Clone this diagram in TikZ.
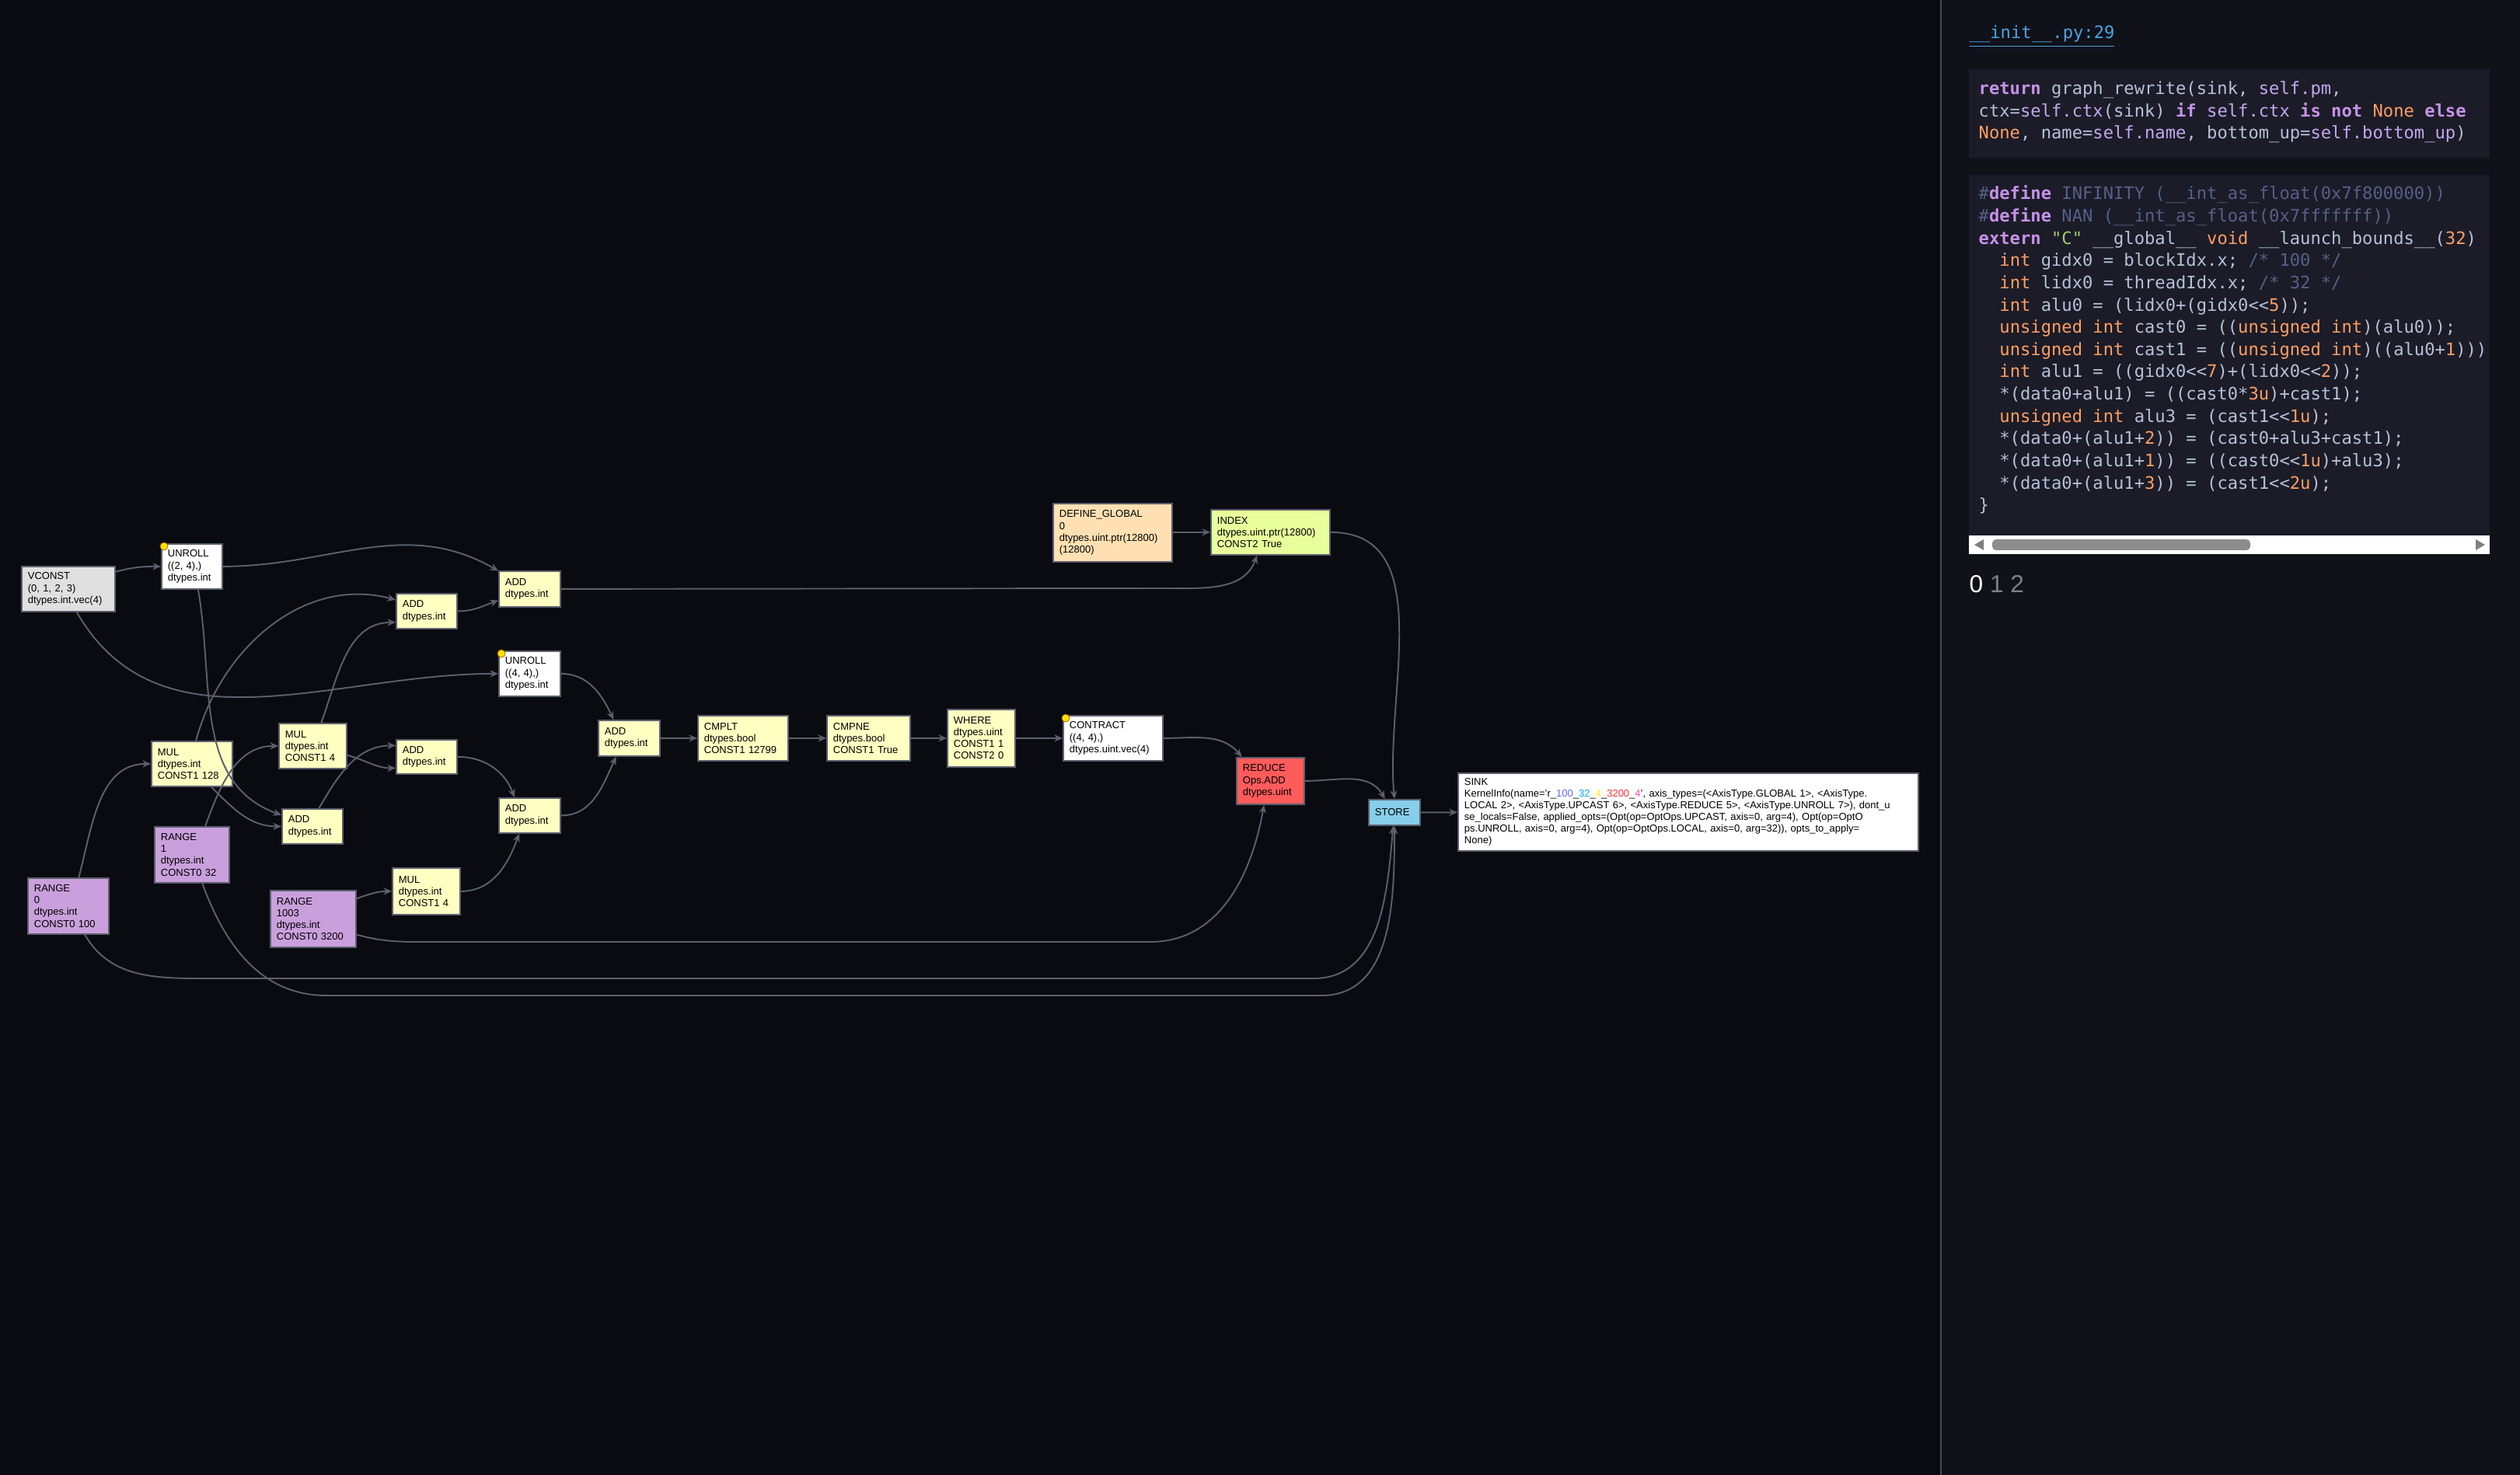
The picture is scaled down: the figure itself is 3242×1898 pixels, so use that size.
\documentclass[tikz,border=0pt]{standalone}
\usepackage{fontspec}
\setmainfont{Liberation Sans}
\setmonofont{DejaVu Sans Mono}
\usetikzlibrary{arrows.meta, positioning}
\definecolor{bgmain}{HTML}{0A0B10}
\definecolor{bgside}{HTML}{101119}
\definecolor{bgcode}{HTML}{1B1C27}
\definecolor{edgegrey}{HTML}{5B5F6E}
\definecolor{opyellow}{HTML}{FFFFC2}
\definecolor{vconstgrey}{HTML}{E0E0E0}
\definecolor{rangepurple}{HTML}{C9A0DC}
\definecolor{globalorange}{HTML}{FFE0B2}
\definecolor{indexgreen}{HTML}{E8FF9C}
\definecolor{reducered}{HTML}{FF5B5B}
\definecolor{storeblue}{HTML}{87CEEB}
\definecolor{kwpurple}{HTML}{C792EA}
\definecolor{selfpurple}{HTML}{C4A7F0}
\definecolor{plaintext}{HTML}{B8BFD9}
\definecolor{numorange}{HTML}{FF9E64}
\definecolor{cmtgrey}{HTML}{565F89}
\definecolor{strgreen}{HTML}{9ECE6A}
\definecolor{linkblue}{HTML}{4AA3DF}
\newcommand\kw[1]{\textcolor{kwpurple}{\bfseries #1}}
\newcommand\sv[1]{\textcolor{selfpurple}{#1}}
\newcommand\nn[1]{\textcolor{numorange}{#1}}
\newcommand\cm[1]{\textcolor{cmtgrey}{#1}}
\newcommand\st[1]{\textcolor{strgreen}{#1}}
\newcommand\ind{\phantom{xx}}

\begin{document}
\begin{tikzpicture}[x=0.01cm, y=0.01cm, >={Stealth[length=3pt,width=2.6pt]}]
    \tikzset{op/.style={draw=edgegrey, line width=0.5pt, anchor=north west, align=left,
                        inner xsep=0.08cm, inner ysep=0pt,
                        font=\fontsize{3.7pt}{4.3pt}\selectfont, text=black},
             wire/.style={draw=edgegrey, line width=0.55pt, ->},
             badge/.style={circle, fill=yellow!85!orange, draw=orange!70!black, line width=0.2pt,
                           inner sep=0pt, minimum size=0.1cm},
             code/.style={anchor=north west, align=left, inner sep=0pt, text=plaintext,
                          font=\fontsize{6.3pt}{8.15pt}\selectfont\ttfamily}}

    % backgrounds
    \fill[bgmain] (0,0) rectangle (3242,-1898);
    \useasboundingbox (0,0) rectangle (3242,-1898);
    \fill[bgside] (2497,0) rectangle (3242,-1898);
    \draw[bgcode!80!white, line width=0.4pt] (2497,0) -- (2497,-1898);

    % graph nodes
    \node[op, fill=vconstgrey, text width=1.04cm, minimum height=0.58cm] (vconst) at (27,-728) {VCONST\\(0, 1, 2, 3)\\dtypes.int.vec(4)};
    \node[op, fill=white, text width=0.62cm, minimum height=0.58cm] (unroll1) at (207,-699) {UNROLL\\((2, 4),)\\dtypes.int};
    \node[op, fill=opyellow, text width=0.63cm, minimum height=0.46cm] (add2) at (641,-734) {ADD\\dtypes.int};
    \node[op, fill=opyellow, text width=0.62cm, minimum height=0.45cm] (add1) at (509,-763) {ADD\\dtypes.int};
    \node[op, fill=white, text width=0.63cm, minimum height=0.58cm] (unroll2) at (641,-837) {UNROLL\\((4, 4),)\\dtypes.int};
    \node[op, fill=opyellow, text width=0.63cm, minimum height=0.46cm] (add5) at (769,-926) {ADD\\dtypes.int};
    \node[op, fill=opyellow, text width=1.00cm, minimum height=0.58cm] (cmplt) at (897,-920) {CMPLT\\dtypes.bool\\CONST1 12799};
    \node[op, fill=opyellow, text width=0.91cm, minimum height=0.58cm] (cmpne) at (1063,-920) {CMPNE\\dtypes.bool\\CONST1 True};
    \node[op, fill=opyellow, text width=0.71cm, minimum height=0.74cm] (where) at (1218,-912) {WHERE\\dtypes.uint\\CONST1 1\\CONST2 0};
    \node[op, fill=white, text width=1.12cm, minimum height=0.58cm] (contract) at (1367,-920) {CONTRACT\\((4, 4),)\\dtypes.uint.vec(4)};
    \node[op, fill=globalorange, text width=1.37cm, minimum height=0.75cm] (defglobal) at (1354,-647) {DEFINE\_GLOBAL\\0\\dtypes.uint.ptr(12800)\\(12800)};
    \node[op, fill=indexgreen, text width=1.37cm, minimum height=0.58cm] (index) at (1557,-655) {INDEX\\dtypes.uint.ptr(12800)\\CONST2 True};
    \node[op, fill=reducered, text width=0.71cm, minimum height=0.60cm] (reduce) at (1590,-974) {REDUCE\\Ops.ADD\\dtypes.uint};
    \node[op, fill=storeblue, text width=0.50cm, minimum height=0.33cm] (store) at (1760,-1028) {STORE};
    \node[op, fill=white, text width=5.76cm, minimum height=1.00cm] (sink) at (1875,-994) {SINK\\KernelInfo(name='r\_\textcolor{blue!60}{100}\_\textcolor{cyan}{32}\_\textcolor{yellow}{4}\_\textcolor{red!80}{3200}\_\textcolor{magenta!70}{4}', axis\_types=(<AxisType.GLOBAL 1>, <AxisType.\\LOCAL 2>, <AxisType.UPCAST 6>, <AxisType.REDUCE 5>, <AxisType.UNROLL 7>), dont\_u\\se\_locals=False, applied\_opts=(Opt(op=OptOps.UPCAST, axis=0, arg=4), Opt(op=OptO\\ps.UNROLL, axis=0, arg=4), Opt(op=OptOps.LOCAL, axis=0, arg=32)), opts\_to\_apply=\\None)};
    \node[op, fill=opyellow, text width=0.88cm, minimum height=0.58cm] (mul128) at (194,-953) {MUL\\dtypes.int\\CONST1 128};
    \node[op, fill=opyellow, text width=0.71cm, minimum height=0.58cm] (mul4a) at (358,-930) {MUL\\dtypes.int\\CONST1 4};
    \node[op, fill=opyellow, text width=0.62cm, minimum height=0.44cm] (add3) at (509,-951) {ADD\\dtypes.int};
    \node[op, fill=opyellow, text width=0.62cm, minimum height=0.45cm] (add4) at (362,-1040) {ADD\\dtypes.int};
    \node[op, fill=opyellow, text width=0.63cm, minimum height=0.45cm] (add6) at (641,-1026) {ADD\\dtypes.int};
    \node[op, fill=rangepurple, text width=0.80cm, minimum height=0.72cm] (range1) at (198,-1063) {RANGE\\1\\dtypes.int\\CONST0 32};
    \node[op, fill=opyellow, text width=0.71cm, minimum height=0.60cm] (mul4b) at (504,-1116) {MUL\\dtypes.int\\CONST1 4};
    \node[op, fill=rangepurple, text width=0.94cm, minimum height=0.73cm] (range1003) at (347,-1145) {RANGE\\1003\\dtypes.int\\CONST0 3200};
    \node[op, fill=rangepurple, text width=0.88cm, minimum height=0.72cm] (range0) at (35,-1129) {RANGE\\0\\dtypes.int\\CONST0 100};

    \foreach \n in {unroll1, unroll2, contract}
        \node[badge] at ([xshift=0.04cm, yshift=-0.04cm]\n.north west) {};

    % bends of the long wires
    \coordinate (bendA) at (1500,-757);
    \coordinate (bendB) at (560,-1212);
    \coordinate (bendC) at (1480,-1212);
    \coordinate (bendD) at (260,-1259);
    \coordinate (bendE) at (1690,-1259);
    \coordinate (bendF) at (420,-1281);
    \coordinate (bendG) at (1700,-1281);

    % wires
    \draw[wire] (vconst.20) to[out=15,in=180] (unroll1.west);
    \draw[wire] (vconst.-70) to[out=-60,in=180] (unroll2.west);
    \draw[wire] (unroll1.east) to[out=0,in=150] (add2.150);
    \draw[wire] (unroll1.-75) to[out=-80,in=160] (add4.160);
    \draw[wire] (add1.east) to[out=0,in=200] (add2.200);
    \draw[wire] (mul128.80) to[out=75,in=165] (add1.160);
    \draw[wire] (mul128.-50) to[out=-45,in=180] (add4.west);
    \draw[wire] (range0.70) to[out=75,in=180] (mul128.west);
    \draw[wire] (range1.65) to[out=70,in=180] (mul4a.west);
    \draw[wire] (mul4a.70) to[out=70,in=180] (add1.200);
    \draw[wire] (mul4a.-15) to[out=-15,in=180] (add3.200);
    \draw[wire] (add4.70) to[out=60,in=180] (add3.160);
    \draw[wire] (add3.east) to[out=0,in=110] (add6.130);
    \draw[wire] (mul4b.east) to[out=0,in=-110] (add6.-120);
    \draw[wire] (range1003.25) to[out=20,in=180] (mul4b.west);
    \draw[wire] (unroll2.east) to[out=0,in=115] (add5.130);
    \draw[wire] (add6.east) to[out=0,in=-115] (add5.-125);
    \draw[wire] (add5) -- (cmplt);
    \draw[wire] (cmplt) -- (cmpne);
    \draw[wire] (cmpne) -- (where);
    \draw[wire] (where) -- (contract);
    \draw[wire] (contract.east) to[out=0,in=130] (reduce.140);
    \draw[wire] (range1003.-20) to[out=-15,in=180] (bendB) -- (bendC) to[out=0,in=-100] (reduce.-105);
    \draw[wire] (add2.east) -- (bendA) to[out=0,in=-110] (index.-120);
    \draw[wire] (defglobal.east |- index.west) -- (index.west);
    \draw[wire] (index.east) to[out=0,in=95] (store.north);
    \draw[wire] (reduce.east) to[out=0,in=120] (store.125);
    \draw[wire] (range0.-60) to[out=-60,in=180] (bendD) -- (bendE) to[out=0,in=-95] (store.-95);
    \draw[wire] (range1.-70) to[out=-70,in=180] (bendF) -- (bendG) to[out=0,in=-90] (store.-90);
    \draw[wire] (store) -- (sink);

    % side panel
    \node[code, text=linkblue] (link) at (2533,-32) {\underline{\_\_init\_\_.py:29}};
    \fill[bgcode] (2533,-89) rectangle (3203,-203);
    \node[code] (pysrc) at (2545,-104) {\kw{return} graph\_rewrite(sink, \sv{self.pm},\\ctx=\sv{self.ctx}(sink) \kw{if} \sv{self.ctx} \kw{is} \kw{not} \nn{None} \kw{else}\\\nn{None}, name=\sv{self.name}, bottom\_up=\sv{self.bottom\_up})};
    \fill[bgcode] (2533,-225) rectangle (3203,-689);
    \begin{scope}
        \clip (2533,-225) rectangle (3203,-689);
        \node[code] (csrc) at (2545,-238) {\cm{\#}\kw{define} \cm{INFINITY (\_\_int\_as\_float(0x7f800000))}\\
\cm{\#}\kw{define} \cm{NAN (\_\_int\_as\_float(0x7fffffff))}\\
\kw{extern} \st{"C"} \_\_global\_\_ \nn{void} \_\_launch\_bounds\_\_(\nn{32})\\
\ind\nn{int} gidx0 = blockIdx.x; \cm{/* 100 */}\\
\ind\nn{int} lidx0 = threadIdx.x; \cm{/* 32 */}\\
\ind\nn{int} alu0 = (lidx0+(gidx0<<\nn{5}));\\
\ind\nn{unsigned int} cast0 = ((\nn{unsigned int})(alu0));\\
\ind\nn{unsigned int} cast1 = ((\nn{unsigned int})((alu0+\nn{1})))\\
\ind\nn{int} alu1 = ((gidx0<<\nn{7})+(lidx0<<\nn{2}));\\
\ind*(data0+alu1) = ((cast0*\nn{3u})+cast1);\\
\ind\nn{unsigned int} alu3 = (cast1<<\nn{1u});\\
\ind*(data0+(alu1+\nn{2})) = (cast0+alu3+cast1);\\
\ind*(data0+(alu1+\nn{1})) = ((cast0<<\nn{1u})+alu3);\\
\ind*(data0+(alu1+\nn{3})) = (cast1<<\nn{2u});\\
\}};
    \end{scope}
    % scroll bar
    \fill[white] (2533,-689) rectangle (3203,-713);
    \fill[gray!90, rounded corners=0.05cm] (2563,-694) rectangle (2895,-708);
    \fill[gray] (2540,-701) -- (2552,-694) -- (2552,-708) -- cycle;
    \fill[gray] (3197,-701) -- (3185,-694) -- (3185,-708) -- cycle;
    \node[anchor=north west, inner sep=0pt, font=\fontsize{9pt}{10pt}\selectfont] (steps) at (2533,-740) {\textcolor{white}{0} \textcolor{gray}{1 2}};
\end{tikzpicture}
\end{document}
